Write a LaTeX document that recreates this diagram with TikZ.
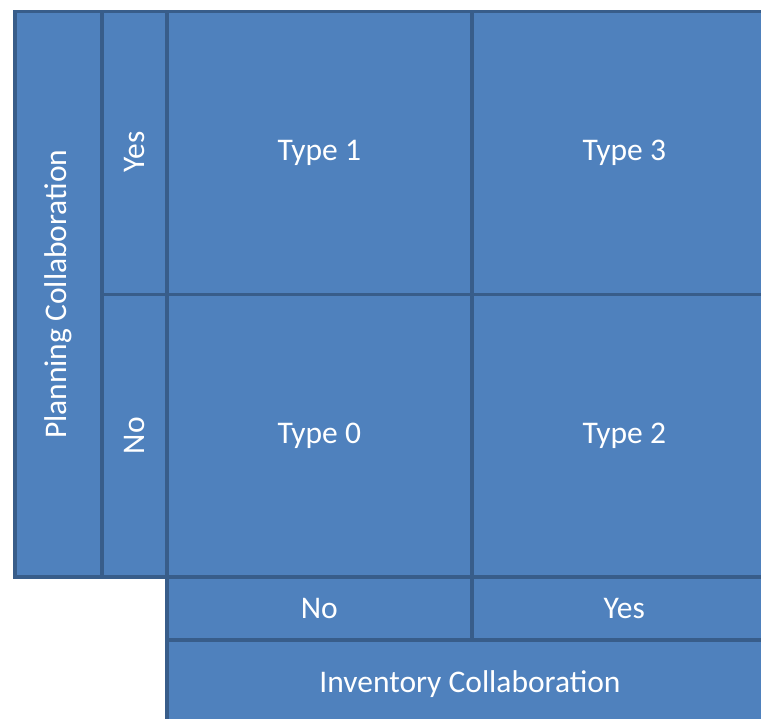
\documentclass[tikz,border=0pt]{standalone}
\usepackage{fontspec}
\setmainfont{Carlito}
\definecolor{cellfill}{HTML}{4F81BD}
\definecolor{cellline}{HTML}{385D8A}
\begin{document}
\begin{tikzpicture}[x=1pt,y=-1pt,
  labeltext/.style={text=white, font=\fontsize{31.5}{38}\selectfont},
  cell/.style={draw=cellline, fill=cellfill, line width=3.5pt, labeltext,
    inner sep=0pt, anchor=north west},
  vlabel/.style={labeltext, rotate=90}]
\useasboundingbox (0,0) rectangle (761,719);
\clip (0,0) rectangle (761,719);
% left header column
\node[cell, minimum width=87pt, minimum height=565pt] (plan) at (13,10) {};
\node[vlabel] (planlbl) at (plan.center) {Planning Collaboration};
\node[cell, minimum width=65pt, minimum height=283pt] (pyes) at (100,10) {};
\node[vlabel] (pyeslbl) at ([yshift=1pt]pyes.center) {Yes};
\node[cell, minimum width=65pt, minimum height=282pt] (pno) at (100,293) {};
\node[vlabel] (pnolbl) at (pno.center) {No};
% quadrant cells
\node[cell, minimum width=305pt, minimum height=283pt] (t1) at (165,10) {Type 1};
\node[cell, minimum width=305pt, minimum height=283pt] (t3) at (470,10) {Type 3};
\node[cell, minimum width=305pt, minimum height=282pt] (t0) at (165,293) {Type 0};
\node[cell, minimum width=305pt, minimum height=282pt] (t2) at (470,293) {Type 2};
% bottom header rows
\node[cell, minimum width=305pt, minimum height=63pt] (ino) at (165,575) {No};
\node[cell, minimum width=305pt, minimum height=63pt] (iyes) at (470,575) {Yes};
\node[cell, minimum width=610pt, minimum height=92pt] (inv) at (165,638) {};
\node[labeltext] (invlbl) at (470,684) {Inventory Collaboration};
\end{tikzpicture}
\end{document}
